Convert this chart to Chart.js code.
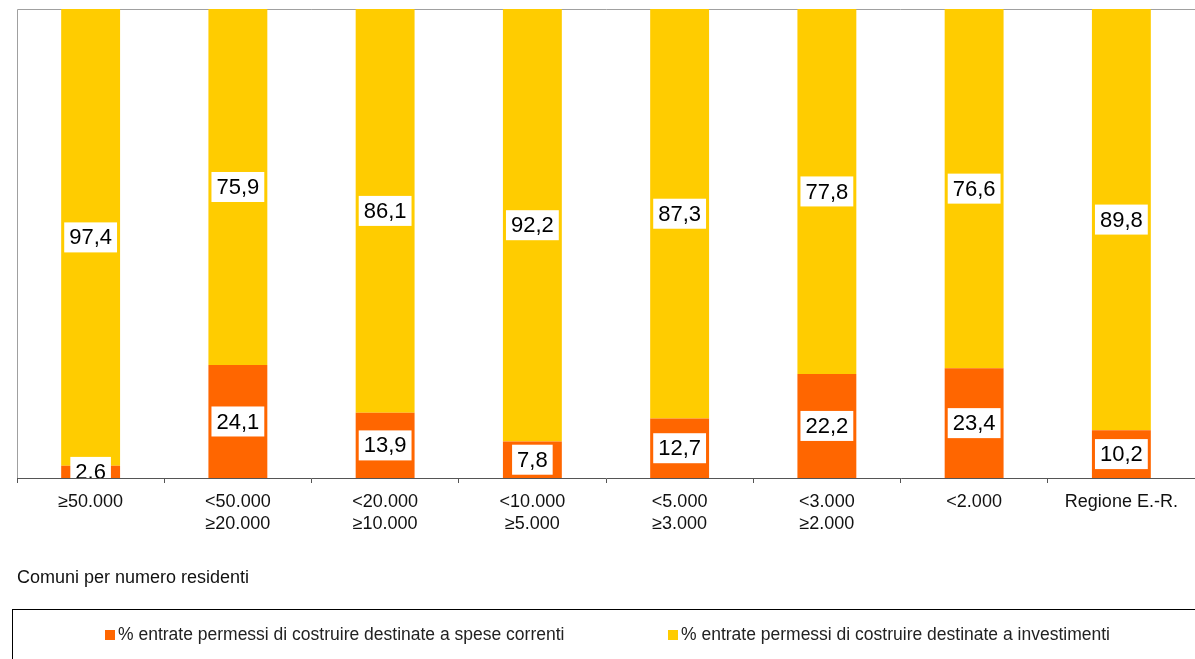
<!DOCTYPE html>
<html>
<head>
<meta charset="utf-8">
<script src="https://cdn.jsdelivr.net/npm/chart.js@4.4.1/dist/chart.umd.min.js"></script>
<style>
html,body{margin:0;padding:0;background:#fff;overflow:hidden}
#wrap{width:1195px;height:659px;position:relative}
</style>
</head>
<body>
<div id="wrap"><canvas id="chart"></canvas></div>
<script>
const categories=[["≥50.000"],["<50.000","≥20.000"],["<20.000","≥10.000"],["<10.000","≥5.000"],["<5.000","≥3.000"],["<3.000","≥2.000"],["<2.000"],["Regione E.-R."]]
const speseCorrenti=[2.6,24.1,13.9,7.8,12.7,22.2,23.4,10.2]
const investimenti=[97.4,75.9,86.1,92.2,87.3,77.8,76.6,89.8]
const seriesNames=["% entrate permessi di costruire destinate a spese correnti","% entrate permessi di costruire destinate a investimenti"]
const axisTitle="Comuni per numero residenti"

const fontFam="'Liberation Sans', Arial, sans-serif"

// white boxes with the value, clipped to the plot
const valueLabels={
  id:"valueLabels",
  afterDatasetsDraw(chart){
    const {ctx,chartArea:a}=chart
    ctx.save()
    ctx.beginPath()
    ctx.rect(a.left,a.top,a.right-a.left,a.bottom-a.top)
    ctx.clip()
    ctx.font="22px "+fontFam
    ctx.textAlign="center"
    ctx.textBaseline="middle"
    chart.data.datasets.forEach((ds,i)=>{
      chart.getDatasetMeta(i).data.forEach((el,j)=>{
        const txt=ds.data[j].toFixed(1).replace(".",",")
        const y=(el.y+el.base)/2
        const w=ctx.measureText(txt).width+10
        ctx.fillStyle="#fff"
        ctx.fillRect(el.x-w/2,y-15,w,30)
        ctx.fillStyle="#000"
        ctx.fillText(txt,el.x,y+1)
      })
    })
    ctx.restore()
  }
}

// gray plot frame on top/left and the boxed legend at the bottom
const frame={
  id:"frame",
  beforeDatasetsDraw(chart){
    const {ctx,chartArea:a}=chart
    ctx.save()
    ctx.strokeStyle="#a0a0a0"
    ctx.lineWidth=1
    ctx.beginPath()
    ctx.moveTo(a.left+0.5,a.bottom)
    ctx.lineTo(a.left+0.5,a.top+0.5)
    ctx.lineTo(a.right,a.top+0.5)
    ctx.stroke()
    ctx.restore()
  },
  afterDraw(chart){
    const {ctx}=chart
    ctx.save()
    ctx.strokeStyle="#000"
    ctx.lineWidth=1
    ctx.strokeRect(12.5,609.5,1200,60)
    const xs=[105,668]
    ctx.font="17.5px "+fontFam
    ctx.textBaseline="middle"
    chart.data.datasets.forEach((ds,i)=>{
      ctx.fillStyle=ds.backgroundColor
      ctx.fillRect(xs[i],630,10,10)
      ctx.fillStyle="#222"
      ctx.fillText(ds.label,xs[i]+13,635)
    })
    ctx.restore()
  }
}

new Chart(document.getElementById("chart"),{
  type:"bar",
  data:{
    labels:categories,
    datasets:[
      {label:seriesNames[0],data:speseCorrenti,backgroundColor:"#FF6600",barPercentage:0.4,categoryPercentage:1},
      {label:seriesNames[1],data:investimenti,backgroundColor:"#FFCC00",barPercentage:0.4,categoryPercentage:1}
    ]
  },
  options:{
    responsive:true,
    maintainAspectRatio:false,
    animation:false,
    layout:{padding:{left:17,top:9,right:0,bottom:69}},
    plugins:{legend:{display:false},tooltip:{enabled:false}},
    scales:{
      x:{
        stacked:true,
        afterFit:s=>{s.height=112},
        grid:{display:true,drawOnChartArea:false,drawTicks:true,tickLength:5,color:"#555",offset:true},
        border:{display:true,color:"#555",width:1},
        ticks:{color:"#111",padding:9,font:{family:fontFam,size:18,lineHeight:1.17},maxRotation:0,autoSkip:false},
        title:{display:true,text:axisTitle,align:"start",color:"#111",font:{family:fontFam,size:18},padding:{top:0,bottom:1}}
      },
      y:{stacked:true,min:0,max:100,display:false}
    }
  },
  plugins:[valueLabels,frame]
})
</script>
</body>
</html>
